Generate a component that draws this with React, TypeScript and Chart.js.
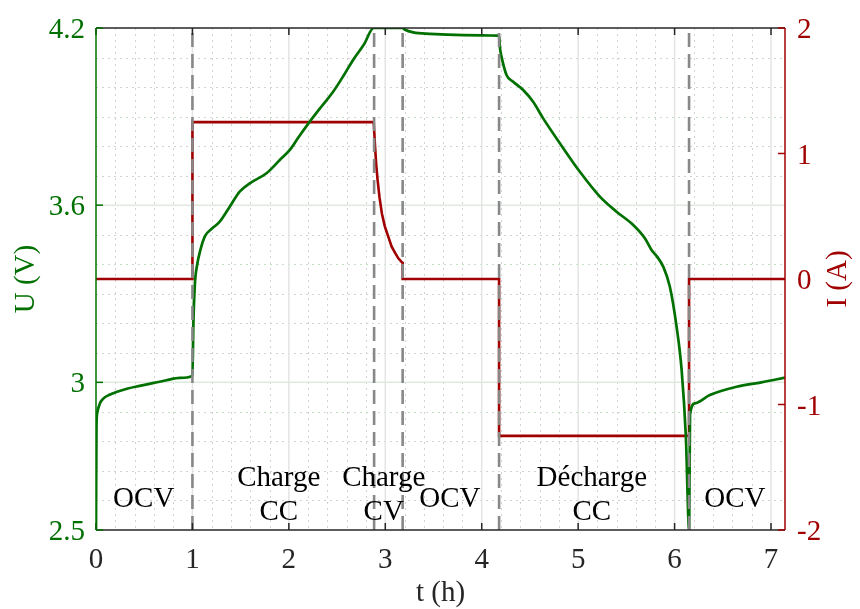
import React, { useEffect, useRef } from 'react';
import { Chart, registerables } from 'chart.js';

Chart.register(...registerables);

// ---- Data ----
const voltageTime = [
  0, 0.005, 0.012, 0.04, 0.073, 0.14, 0.21, 0.33, 0.453, 0.6, 0.73, 0.87, 1.0,
  1.01, 1.025, 1.05, 1.08, 1.13, 1.2, 1.283, 1.387, 1.49, 1.594, 1.768, 1.906, 2.01, 2.1, 2.217, 2.34, 2.459, 2.57, 2.666, 2.78, 2.88,
  3.18, 3.2, 3.29, 3.46, 3.81, 4.17, 4.18,
  4.19, 4.205, 4.257, 4.326, 4.43, 4.533, 4.637, 4.81, 5.018, 5.225, 5.398, 5.571, 5.692, 5.761, 5.82, 5.882, 5.951, 6.021, 6.073, 6.117, 6.151,
  6.16, 6.21, 6.366, 6.643, 6.9, 7.145,
];
const voltageValues = [
  2.5, 2.85, 2.895, 2.928, 2.944, 2.958, 2.967, 2.979, 2.988, 2.998, 3.007, 3.015, 3.022,
  3.2, 3.33, 3.4, 3.445, 3.495, 3.52, 3.544, 3.595, 3.646, 3.674, 3.708, 3.753, 3.787, 3.83, 3.883, 3.935, 3.984, 4.04, 4.092, 4.145, 4.2,
  4.2, 4.195, 4.185, 4.18, 4.176, 4.174, 4.171,
  4.13, 4.103, 4.041, 4.018, 3.99, 3.95, 3.894, 3.81, 3.713, 3.629, 3.578, 3.533, 3.488, 3.448, 3.425, 3.392, 3.324, 3.188, 3.042, 2.816, 2.5,
  2.89, 2.929, 2.957, 2.985, 3.0, 3.016,
];

const currentTime = [
  0, 1, 1, 2.88, 2.892, 2.905, 2.92, 2.94, 2.965, 2.995, 3.03, 3.065, 3.1, 3.135, 3.17, 3.18, 3.18,
  4.18, 4.18, 6.15, 6.15, 7.145,
];
const currentValues = [
  0, 0, 1.25, 1.25, 1.08, 0.92, 0.79, 0.65, 0.52, 0.42, 0.34, 0.26, 0.21, 0.165, 0.135, 0.13, 0,
  0, -1.25, -1.25, 0, 0,
];

const phaseBoundaries = [1.0, 2.884, 3.18, 4.18, 6.15];

const xTicks = [0, 1, 2, 3, 4, 5, 6, 7];
const uTicks = [2.5, 3, 3.6, 4.2];
const iTicks = [-2, -1, 0, 1, 2];

const phaseLabels = [['OCV'], ['Charge', 'CC'], ['Charge', 'CV'], ['OCV'], ['Décharge', 'CC'], ['OCV']];
const phaseLabelT = [0.495, 1.895, 2.984, 3.67, 5.142, 6.625];
const singleLineV = 2.578;
const twoLineV = [2.649, 2.534];

// ---- Styles ----
const GREEN = '#007000';
const RED = '#a00000';
const DARK = '#262626';
const FONT = '29px "Liberation Serif", "DejaVu Serif", serif';

const overlayPlugin = {
  id: 'overlay',
  beforeDatasetsDraw(chart: any) {
    const { ctx, chartArea: a, scales } = chart;
    const xs = scales.x, ys = scales.y;
    ctx.save();
    ctx.beginPath();
    ctx.rect(a.left, a.top, a.right - a.left, a.bottom - a.top);
    ctx.clip();
    // minor vertical
    ctx.lineWidth = 1;
    ctx.setLineDash([2, 4]);
    ctx.strokeStyle = '#d2d2d2';
    for (let k = 1; k <= 35; k++) {
      const t = k * 0.2;
      if (k % 5 === 0) continue;
      if (t > xs.max) break;
      const px = Math.round(xs.getPixelForValue(t)) + 0.5;
      ctx.beginPath(); ctx.moveTo(px, a.top); ctx.lineTo(px, a.bottom); ctx.stroke();
    }
    // minor horizontal
    for (let k = 26; k <= 41; k++) {
      const v = k / 10;
      if (k === 30 || k === 36) continue;
      ctx.strokeStyle = (k === 29 || k === 34 || k === 39) ? '#c4e0c4' : '#d2d2d2';
      const py = Math.round(ys.getPixelForValue(v)) + 0.5;
      ctx.beginPath(); ctx.moveTo(a.left, py); ctx.lineTo(a.right, py); ctx.stroke();
    }
    ctx.setLineDash([]);
    // major grid
    ctx.lineWidth = 1.5;
    ctx.strokeStyle = '#e4e4e4';
    for (const t of xTicks) {
      if (t === 0) continue;
      const px = xs.getPixelForValue(t);
      ctx.beginPath(); ctx.moveTo(px, a.top); ctx.lineTo(px, a.bottom); ctx.stroke();
    }
    ctx.strokeStyle = '#e0e9e0';
    for (const v of uTicks) {
      if (v === 2.5 || v === 4.2) continue;
      const py = ys.getPixelForValue(v);
      ctx.beginPath(); ctx.moveTo(a.left, py); ctx.lineTo(a.right, py); ctx.stroke();
    }
    ctx.restore();
  },
  afterDatasetsDraw(chart: any) {
    const { ctx, chartArea: a, scales } = chart;
    const xs = scales.x, ys = scales.y, ys2 = scales.y2;
    ctx.save();
    // borders
    ctx.lineWidth = 1.5;
    ctx.strokeStyle = DARK;
    ctx.beginPath(); ctx.moveTo(a.left, a.top); ctx.lineTo(a.right, a.top); ctx.stroke();
    ctx.beginPath(); ctx.moveTo(a.left, a.bottom); ctx.lineTo(a.right, a.bottom); ctx.stroke();
    for (const t of xTicks) {
      const px = xs.getPixelForValue(t);
      ctx.beginPath(); ctx.moveTo(px, a.bottom); ctx.lineTo(px, a.bottom - 7); ctx.stroke();
      ctx.beginPath(); ctx.moveTo(px, a.top); ctx.lineTo(px, a.top + 7); ctx.stroke();
    }
    ctx.strokeStyle = GREEN;
    ctx.beginPath(); ctx.moveTo(a.left, a.top); ctx.lineTo(a.left, a.bottom); ctx.stroke();
    for (const v of uTicks) {
      const py = ys.getPixelForValue(v);
      ctx.beginPath(); ctx.moveTo(a.left, py); ctx.lineTo(a.left + 7, py); ctx.stroke();
    }
    ctx.strokeStyle = RED;
    ctx.beginPath(); ctx.moveTo(a.right, a.top); ctx.lineTo(a.right, a.bottom); ctx.stroke();
    for (const v of iTicks) {
      const py = ys2.getPixelForValue(v);
      ctx.beginPath(); ctx.moveTo(a.right, py); ctx.lineTo(a.right - 7, py); ctx.stroke();
    }
    // tick labels
    ctx.font = FONT;
    ctx.textBaseline = 'alphabetic';
    ctx.fillStyle = DARK;
    ctx.textAlign = 'center';
    for (const t of xTicks) {
      ctx.fillText(String(t), xs.getPixelForValue(t), a.bottom + 38);
    }
    ctx.fillStyle = GREEN;
    ctx.textAlign = 'right';
    for (const v of uTicks) {
      ctx.fillText(String(v), a.left - 11, ys.getPixelForValue(v) + 10);
    }
    ctx.fillStyle = RED;
    ctx.textAlign = 'left';
    for (const v of iTicks) {
      ctx.fillText(String(v), a.right + 12, ys2.getPixelForValue(v) + 10);
    }
    // axis titles
    ctx.fillStyle = DARK;
    ctx.textAlign = 'center';
    ctx.fillText('t (h)', (a.left + a.right) / 2, 601);
    const midY = (a.top + a.bottom) / 2;
    ctx.save();
    ctx.translate(34, midY);
    ctx.rotate(-Math.PI / 2);
    ctx.fillStyle = GREEN;
    ctx.fillText('U (V)', 0, 0);
    ctx.restore();
    ctx.save();
    ctx.translate(846, midY);
    ctx.rotate(-Math.PI / 2);
    ctx.fillStyle = RED;
    ctx.fillText('I (A)', 0, 0);
    ctx.restore();
    // phase labels
    ctx.fillStyle = '#000000';
    ctx.textAlign = 'center';
    phaseLabels.forEach((lines, i) => {
      const px = xs.getPixelForValue(phaseLabelT[i]);
      if (lines.length === 1) {
        ctx.fillText(lines[0], px, ys.getPixelForValue(singleLineV));
      } else {
        lines.forEach((ln, j) => ctx.fillText(ln, px, ys.getPixelForValue(twoLineV[j])));
      }
    });
    ctx.restore();
  },
};

export default function App() {
  const ref = useRef<HTMLCanvasElement | null>(null);
  useEffect(() => {
    if (!ref.current) return;
    const dashSets = phaseBoundaries.map((t) => ({
      data: [{ x: t, y: 2.5 }, { x: t, y: 4.2 }],
      yAxisID: 'y',
      borderColor: '#888888',
      borderWidth: 2.6,
      borderDash: [14, 7],
      pointRadius: 0,
      tension: 0,
      order: 0,
    }));
    const chart = new Chart(ref.current, {
      type: 'line',
      data: {
        datasets: [
          ...dashSets,
          {
            data: voltageTime.map((t, i) => ({ x: t, y: voltageValues[i] })),
            yAxisID: 'y',
            borderColor: GREEN,
            borderWidth: 2.7,
            pointRadius: 0,
            cubicInterpolationMode: 'monotone',
            order: 1,
          },
          {
            data: currentTime.map((t, i) => ({ x: t, y: currentValues[i] })),
            yAxisID: 'y2',
            borderColor: RED,
            borderWidth: 2.6,
            pointRadius: 0,
            tension: 0,
            order: 2,
          },
        ] as any,
      },
      options: {
        animation: false,
        responsive: false,
        devicePixelRatio: 1,
        layout: { padding: { top: 28, left: 0, right: 0, bottom: 0 } },
        plugins: { legend: { display: false }, tooltip: { enabled: false } },
        events: [],
        scales: {
          x: {
            type: 'linear',
            min: 0,
            max: 7.145,
            grid: { display: false, drawTicks: false },
            border: { display: false },
            ticks: { display: false },
            afterFit: (s: any) => { s.height = 79; },
          },
          y: {
            type: 'linear',
            position: 'left',
            min: 2.5,
            max: 4.2,
            grid: { display: false, drawTicks: false },
            border: { display: false },
            ticks: { display: false },
            afterFit: (s: any) => { s.width = 96; },
          },
          y2: {
            type: 'linear',
            position: 'right',
            min: -2,
            max: 2,
            grid: { display: false, drawTicks: false },
            border: { display: false },
            ticks: { display: false },
            afterFit: (s: any) => { s.width = 75; },
          },
        },
      } as any,
      plugins: [overlayPlugin],
    });
    return () => chart.destroy();
  }, []);
  return (
    <div style={{ position: 'fixed', left: 0, top: 0, width: 860, height: 609, background: '#ffffff' }}>
      <canvas ref={ref} width={860} height={609} style={{ width: 860, height: 609, display: 'block' }} />
    </div>
  );
}
